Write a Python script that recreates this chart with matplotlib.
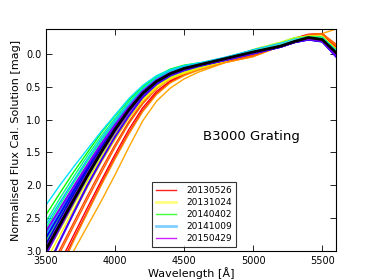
import numpy as np
import matplotlib
matplotlib.use('Agg')
import matplotlib.pyplot as plt

# wavelength nodes [A]
wave = [3500, 3600, 3700, 3800, 3900, 4000, 4100, 4200, 4300, 4400,
        4500, 4600, 4800, 5000, 5200, 5300, 5400, 5500, 5600]

# 20130526 - reds / oranges
red_curves = [
    [3.70, 3.25, 2.82, 2.40, 1.98, 1.58, 1.20, 0.86, 0.60, 0.43, 0.32, 0.24, 0.12, 0.03, -0.13, -0.23, -0.29, -0.30, -0.10],
    [3.60, 3.18, 2.76, 2.34, 1.93, 1.53, 1.15, 0.82, 0.57, 0.41, 0.31, 0.23, 0.11, 0.02, -0.14, -0.24, -0.30, -0.31, -0.12],
    [3.40, 2.98, 2.57, 2.16, 1.76, 1.38, 1.03, 0.74, 0.52, 0.38, 0.29, 0.22, 0.11, 0.02, -0.13, -0.22, -0.28, -0.30, -0.14],
    [3.75, 3.38, 3.00, 2.62, 2.24, 1.84, 1.42, 1.02, 0.72, 0.52, 0.38, 0.28, 0.13, 0.04, -0.12, -0.22, -0.28, -0.31, -0.38],
    [3.75, 3.30, 2.85, 2.42, 2.00, 1.60, 1.22, 0.88, 0.62, 0.44, 0.33, 0.25, 0.13, 0.04, -0.12, -0.22, -0.29, -0.31, -0.13],
    [3.45, 3.03, 2.62, 2.21, 1.81, 1.42, 1.06, 0.76, 0.53, 0.38, 0.29, 0.22, 0.11, 0.03, -0.12, -0.22, -0.29, -0.31, -0.15],
]
red_colors = ['red', 'red', 'orangered', 'orange', 'darkorange', '#ff6000']

# 20131024 - yellows
yellow_curves = [
    [3.15, 2.76, 2.37, 1.98, 1.60, 1.26, 0.95, 0.69, 0.50, 0.37, 0.29, 0.22, 0.10, -0.06, -0.17, -0.24, -0.27, -0.27, -0.08],
    [3.25, 2.84, 2.43, 2.03, 1.65, 1.30, 0.98, 0.72, 0.52, 0.38, 0.30, 0.23, 0.11, -0.05, -0.16, -0.23, -0.27, -0.27, -0.07],
    [3.05, 2.68, 2.30, 1.93, 1.56, 1.22, 0.92, 0.67, 0.48, 0.36, 0.28, 0.21, 0.10, -0.06, -0.17, -0.24, -0.27, -0.26, -0.06],
    [3.00, 2.64, 2.27, 1.90, 1.53, 1.19, 0.89, 0.64, 0.46, 0.34, 0.26, 0.20, 0.09, -0.07, -0.18, -0.25, -0.27, -0.26, -0.05],
]
yellow_colors = ['yellow', 'gold', '#e0ff00', 'greenyellow']

# 20140402 - greens
green_curves = [
    [2.45, 2.12, 1.80, 1.50, 1.20, 0.94, 0.70, 0.50, 0.34, 0.23, 0.17, 0.14, 0.09, -0.04, -0.15, -0.22, -0.26, -0.25, -0.06],
    [2.55, 2.20, 1.87, 1.55, 1.25, 0.98, 0.73, 0.52, 0.36, 0.25, 0.18, 0.14, 0.09, -0.04, -0.15, -0.22, -0.26, -0.25, -0.05],
    [2.65, 2.30, 1.96, 1.63, 1.32, 1.04, 0.78, 0.55, 0.38, 0.27, 0.20, 0.15, 0.09, -0.04, -0.15, -0.22, -0.26, -0.25, -0.05],
    [2.72, 2.37, 2.02, 1.68, 1.36, 1.07, 0.80, 0.57, 0.39, 0.28, 0.20, 0.15, 0.09, -0.03, -0.14, -0.22, -0.26, -0.25, -0.05],
    [2.85, 2.48, 2.11, 1.75, 1.41, 1.10, 0.82, 0.58, 0.40, 0.28, 0.21, 0.16, 0.08, -0.03, -0.14, -0.22, -0.26, -0.25, -0.04],
]
green_colors = ['lime', 'springgreen', '#00ff80', 'mediumspringgreen', '#40ff40']

# 20141009 - cyans / light blues
cyan_curves = [
    [2.30, 2.00, 1.72, 1.45, 1.18, 0.93, 0.68, 0.48, 0.33, 0.24, 0.18, 0.14, 0.05, -0.06, -0.16, -0.22, -0.25, -0.24, -0.05],
    [2.60, 2.26, 1.93, 1.60, 1.29, 1.01, 0.76, 0.54, 0.37, 0.26, 0.19, 0.15, 0.05, -0.06, -0.16, -0.22, -0.25, -0.23, -0.04],
    [2.75, 2.39, 2.04, 1.69, 1.36, 1.06, 0.79, 0.56, 0.39, 0.27, 0.20, 0.16, 0.06, -0.06, -0.15, -0.22, -0.25, -0.23, -0.03],
    [2.88, 2.50, 2.12, 1.76, 1.41, 1.10, 0.82, 0.58, 0.40, 0.28, 0.21, 0.16, 0.06, -0.05, -0.15, -0.22, -0.25, -0.23, -0.03],
]
cyan_colors = ['#00e0ff', 'deepskyblue', '#00c8ff', 'turquoise']

# 20150429 - blues / purples
purple_curves = [
    [2.80, 2.44, 2.08, 1.73, 1.40, 1.10, 0.82, 0.58, 0.41, 0.30, 0.23, 0.18, 0.09, -0.01, -0.11, -0.18, -0.22, -0.19, 0.02],
    [2.90, 2.52, 2.14, 1.78, 1.44, 1.13, 0.84, 0.60, 0.42, 0.31, 0.23, 0.18, 0.09, -0.01, -0.11, -0.18, -0.22, -0.19, 0.03],
    [2.95, 2.57, 2.19, 1.82, 1.47, 1.15, 0.86, 0.61, 0.43, 0.31, 0.24, 0.18, 0.09, -0.01, -0.11, -0.18, -0.23, -0.20, 0.02],
    [3.05, 2.65, 2.26, 1.87, 1.51, 1.18, 0.88, 0.62, 0.44, 0.32, 0.24, 0.18, 0.09, -0.01, -0.11, -0.18, -0.23, -0.20, 0.03],
    [3.30, 2.85, 2.42, 2.00, 1.62, 1.26, 0.94, 0.66, 0.46, 0.33, 0.25, 0.19, 0.09, -0.01, -0.11, -0.18, -0.22, -0.20, 0.04],
    [2.70, 2.36, 2.02, 1.69, 1.37, 1.08, 0.81, 0.57, 0.40, 0.29, 0.22, 0.17, 0.08, -0.02, -0.12, -0.19, -0.23, -0.20, 0.01],
]
purple_colors = ['blue', 'mediumblue', 'blueviolet', '#6a00ff', '#4000ff', '#8000ff']

mean_curve = [2.98, 2.60, 2.22, 1.85, 1.49, 1.15, 0.85, 0.60, 0.42, 0.30,
              0.22, 0.17, 0.07, -0.03, -0.12, -0.19, -0.25, -0.22, -0.02]

dates = ['20130526', '20131024', '20140402', '20141009', '20150429']
legend_colors = ['#ff2020', '#ffff80', '#40ff40', '#80d0ff', '#d020ff']
legend_widths = [1.0, 2.0, 1.0, 2.0, 1.0]

plt.rcParams['font.family'] = 'DejaVu Sans'
fig = plt.figure(figsize=(3.74, 2.8), dpi=100)
ax = fig.add_axes([46 / 374, 29 / 280, 290 / 374, 222 / 280])

groups = [(red_curves, red_colors, 1.0), (yellow_curves, yellow_colors, 1.0),
          (green_curves, green_colors, 1.0), (cyan_curves, cyan_colors, 1.0),
          (purple_curves, purple_colors, 1.5)]
for curves, colors, lw in groups:
    for vals, c in zip(curves, colors):
        ax.plot(wave, vals, color=c, lw=lw)
ax.plot(wave, mean_curve, color='black', lw=2.0)

# legend proxies
handles = []
for d, c, w in zip(dates, legend_colors, legend_widths):
    h, = ax.plot([], [], color=c, lw=w, label=d)
    handles.append(h)
leg = ax.legend(handles=handles, loc='lower left', bbox_to_anchor=(0.366, 0.018),
                borderaxespad=0, fontsize=6.5, fancybox=False, handlelength=2.2,
                labelspacing=0.35, handletextpad=1.2)
leg.get_frame().set_edgecolor('black')
leg.get_frame().set_linewidth(0.8)

ax.text(4640, 1.25, 'B3000 Grating', fontsize=9.5, ha='left', va='center')

ax.set_xlim(3500, 5600)
ax.set_ylim(3.0, -0.38)
ax.set_xticks([3500, 4000, 4500, 5000, 5500])
ax.set_yticks([0.0, 0.5, 1.0, 1.5, 2.0, 2.5, 3.0])
ax.tick_params(direction='in', top=True, right=True, labelsize=7, length=4, width=0.6)
ax.set_xlabel('Wavelength [Å]', fontsize=8, labelpad=1)
ax.set_ylabel('Normalised Flux Cal. Solution [mag]', fontsize=8, labelpad=3)
for s in ax.spines.values():
    s.set_linewidth(0.8)

fig.savefig('out.png', dpi=100)
